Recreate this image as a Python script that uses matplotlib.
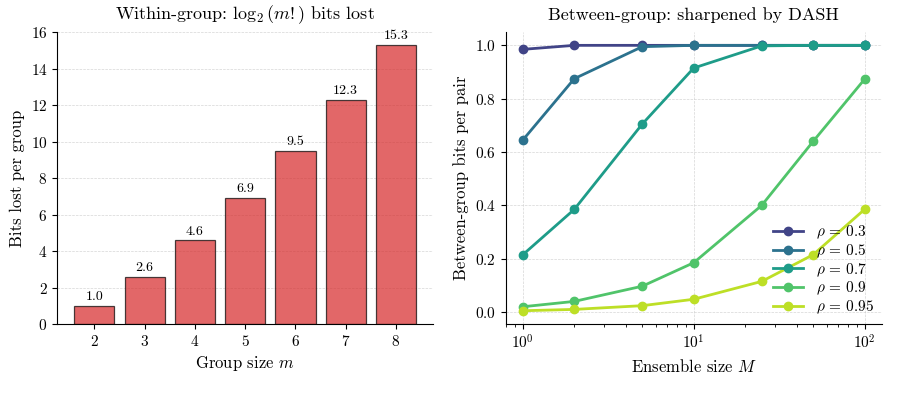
import numpy as np
import matplotlib
matplotlib.use("Agg")
from matplotlib import pyplot as plt

plt.rcParams["font.family"] = "serif"
plt.rcParams["font.serif"] = ["cmr10", "DejaVu Serif"]
plt.rcParams["mathtext.fontset"] = "cm"
plt.rcParams["axes.formatter.use_mathtext"] = True

# within-group data
group_sizes = [2, 3, 4, 5, 6, 7, 8]
bits_lost = [1.0, 2.585, 4.585, 6.907, 9.492, 12.299, 15.299]

# between-group data
ensemble_sizes = [1, 2, 5, 10, 25, 50, 100]
rhos = [0.3, 0.5, 0.7, 0.9, 0.95]
rho_03 = [0.985, 1.0, 1.0, 1.0, 1.0, 1.0, 1.0]
rho_05 = [0.645, 0.875, 0.995, 1.0, 1.0, 1.0, 1.0]
rho_07 = [0.215, 0.385, 0.705, 0.915, 0.998, 1.0, 1.0]
rho_09 = [0.020, 0.040, 0.097, 0.185, 0.400, 0.640, 0.873]
rho_095 = [0.005, 0.010, 0.024, 0.048, 0.115, 0.215, 0.385]
series = [rho_03, rho_05, rho_07, rho_09, rho_095]

fig = plt.figure(figsize=(9.08, 4.01), dpi=100)
ax1 = fig.add_axes([0.063, 0.192, 0.414, 0.728])
ax2 = fig.add_axes([0.557, 0.192, 0.414, 0.728])

ax1.bar(group_sizes, bits_lost, width=0.8, color="tab:red", alpha=0.7,
        edgecolor="black", linewidth=0.9)
for x, v in zip(group_sizes, bits_lost):
    ax1.text(x, v + 0.15, f"{v:.1f}", ha="center", va="bottom", fontsize=10)
ax1.set_ylim(0, 16)
ax1.set_xticks(group_sizes)
ax1.set_xlabel("Group size $m$", fontsize=12)
ax1.set_ylabel("Bits lost per group", fontsize=12)
ax1.set_title(r"Within-group: $\log_2(m!)$ bits lost", fontsize=13, pad=9)
ax1.grid(axis="y", linestyle="--", linewidth=0.5, color="#cccccc", alpha=0.8)
ax1.set_axisbelow(True)

colors = plt.cm.viridis(np.linspace(0.2, 0.9, len(rhos)))
for rho, vals, c in zip(rhos, series, colors):
    ax2.plot(ensemble_sizes, vals, "o-", color=c, linewidth=2, markersize=6,
             label=rf"$\rho$ = {rho}")
ax2.set_xscale("log")
ax2.set_xlabel("Ensemble size $M$", fontsize=12)
ax2.set_ylabel("Between-group bits per pair", fontsize=12)
ax2.set_title("Between-group: sharpened by DASH", fontsize=13, pad=9)
ax2.grid(True, linestyle="--", linewidth=0.5, color="#cccccc", alpha=0.8)
ax2.legend(loc="lower right", frameon=False, fontsize=11, handlelength=2.0,
           labelspacing=0.1, borderaxespad=0.1)

for ax in (ax1, ax2):
    ax.spines["top"].set_visible(False)
    ax.spines["right"].set_visible(False)
    ax.tick_params(labelsize=11)

fig.savefig("out.png", dpi=100)
